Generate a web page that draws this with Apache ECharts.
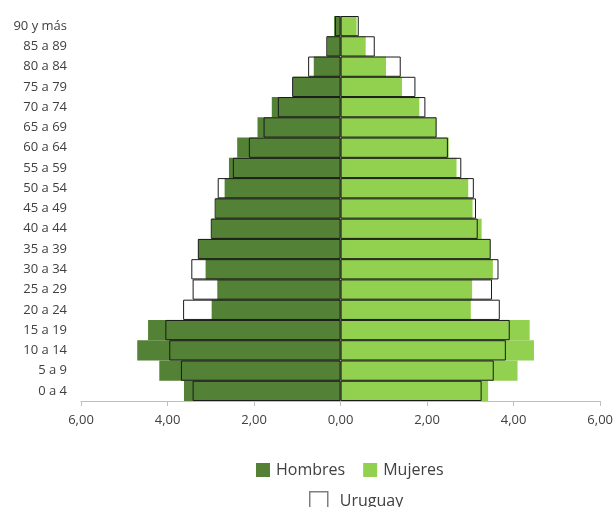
<!DOCTYPE html>
<html>
<head>
<meta charset="utf-8">
<script src="https://cdn.jsdelivr.net/npm/echarts@6/dist/echarts.min.js"></script>
<style>html,body{margin:0;padding:0;background:#fff;}#c{width:616px;height:507px;}</style>
</head>
<body>
<div id="c"></div>
<script>
var categories = ['90 y más','85 a 89','80 a 84','75 a 79','70 a 74','65 a 69','60 a 64','55 a 59','50 a 54','45 a 49','40 a 44','35 a 39','30 a 34','25 a 29','20 a 24','15 a 19','10 a 14','5 a 9','0 a 4'];
var hombres = [0.15,0.31,0.62,1.10,1.59,1.92,2.39,2.58,2.68,2.89,2.98,3.29,3.12,2.85,2.98,4.45,4.70,4.19,3.62];
var mujeres = [0.37,0.58,1.05,1.42,1.82,2.21,2.50,2.68,2.95,3.05,3.26,3.46,3.52,3.04,3.01,4.37,4.47,4.09,3.41];
var uruguayH = [0.13,0.33,0.75,1.12,1.45,1.78,2.12,2.49,2.84,2.91,3.00,3.30,3.45,3.42,3.64,4.05,3.96,3.69,3.42];
var uruguayM = [0.42,0.79,1.39,1.73,1.96,2.22,2.48,2.79,3.08,3.13,3.17,3.47,3.65,3.50,3.68,3.91,3.82,3.54,3.26];
var xTicks = {min: -6, max: 6, interval: 2};

var neg = function(a){ return a.map(function(v){ return -v; }); };
var font = '"Open Sans", "Noto Sans", sans-serif';
var chart = echarts.init(document.getElementById('c'), null, {renderer: 'canvas'});
chart.setOption({
  animation: false,
  textStyle: {fontFamily: font},
  grid: {left: 81, right: 15, top: 16, bottom: 106, containLabel: false},
  legend: [
    {data: ['Hombres','Mujeres'], top: 457, left: 251, itemWidth: 14, itemHeight: 14, itemGap: 18,
     icon: 'rect',
     textStyle: {fontSize: 16, color: '#404040', fontFamily: font, padding: [0,0,0,1]}},
    {data: [{name: 'Uruguay', icon: 'rect', itemStyle: {color: '#ffffff', borderColor: '#7f7f7f', borderWidth: 1.5}}],
     top: 486, left: 304, itemWidth: 18, itemHeight: 19, itemGap: 20,
     textStyle: {fontSize: 16, color: '#404040', fontFamily: font, padding: [0,0,0,7]}}
  ],
  xAxis: {
    type: 'value', min: xTicks.min, max: xTicks.max, interval: xTicks.interval,
    axisLine: {show: true, onZero: false, lineStyle: {color: '#bfbfbf'}},
    axisTick: {show: true, length: 5, lineStyle: {color: '#bfbfbf'}},
    splitLine: {show: false},
    axisLabel: {fontSize: 13, color: '#404040', margin: 13, fontFamily: font,
      formatter: function(v){ return Math.abs(v).toFixed(2).replace('.', ','); }}
  },
  yAxis: {
    type: 'category', data: categories, inverse: true,
    axisLine: {show: false, onZero: false},
    axisTick: {show: false},
    axisLabel: {fontSize: 13, color: '#404040', margin: 14, fontFamily: font}
  },
  series: [
    {name: 'Hombres', type: 'bar', data: neg(hombres), barGap: '-100%', barCategoryGap: '0%',
     itemStyle: {color: '#538135'}},
    {name: 'Mujeres', type: 'bar', data: mujeres, barGap: '-100%', barCategoryGap: '0%',
     itemStyle: {color: '#92d050'}},
    {name: 'Uruguay', type: 'bar', data: neg(uruguayH), barGap: '-100%', barCategoryGap: '0%',
     itemStyle: {color: 'rgba(0,0,0,0)', borderColor: '#1a1a1a', borderWidth: 1}},
    {name: 'Uruguay', type: 'bar', data: uruguayM, barGap: '-100%', barCategoryGap: '0%',
     itemStyle: {color: 'rgba(0,0,0,0)', borderColor: '#1a1a1a', borderWidth: 1}}
  ]
});
</script>
</body>
</html>
